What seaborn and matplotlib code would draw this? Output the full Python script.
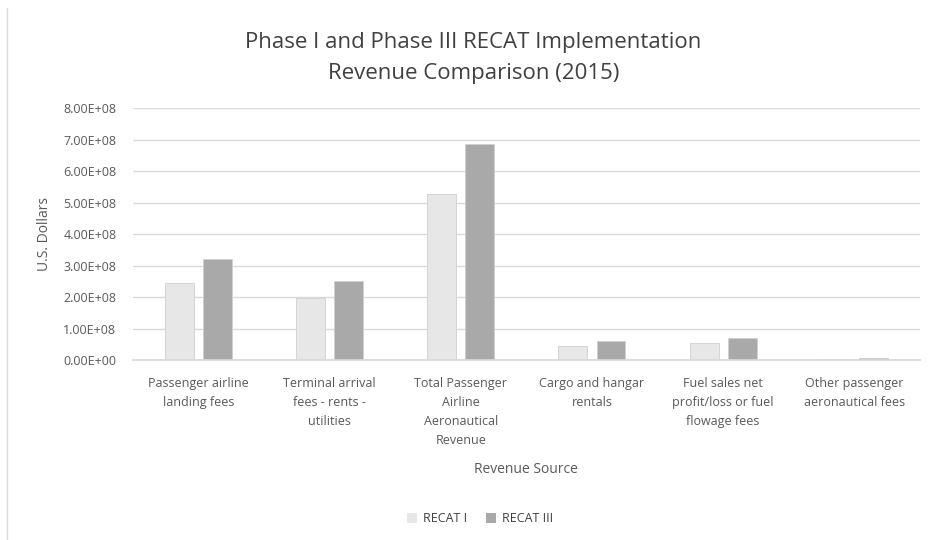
import matplotlib
matplotlib.use("Agg")
import matplotlib.pyplot as plt
import seaborn as sns
import pandas as pd
from matplotlib.ticker import FuncFormatter
from matplotlib.patches import Patch
from matplotlib.lines import Line2D

categories = [
    "Passenger airline\nlanding fees",
    "Terminal arrival\nfees - rents -\nutilities",
    "Total Passenger\nAirline\nAeronautical\nRevenue",
    "Cargo and hangar\nrentals",
    "Fuel sales net\nprofit/loss or fuel\nflowage fees",
    "Other passenger\naeronautical fees",
]
recat_1 = [2.46e8, 1.96e8, 5.28e8, 0.44e8, 0.55e8, 0.05e8]
recat_3 = [3.22e8, 2.52e8, 6.87e8, 0.60e8, 0.69e8, 0.07e8]
series_names = ["RECAT I", "RECAT III"]
colors = ["#E7E7E7", "#A9A9A9"]

df = pd.DataFrame({
    "cat": categories * 2,
    "value": recat_1 + recat_3,
    "series": [series_names[0]] * len(categories) + [series_names[1]] * len(categories),
})

sns.set_theme(style="white")
plt.rcParams["font.family"] = ["Open Sans", "DejaVu Sans"]

fig = plt.figure(figsize=(9.3, 5.4), dpi=100)
ax = fig.add_axes([0.143, 0.333, 0.846, 0.467])

sns.barplot(data=df, x="cat", y="value", hue="series", palette=colors,
            width=0.58, gap=0.24, ax=ax, legend=False, saturation=1,
            edgecolor="#D0D0D0", linewidth=0.6)

ax.set_ylim(0, 8e8)
ax.set_yticks([i * 1e8 for i in range(9)])
ax.yaxis.set_major_formatter(FuncFormatter(lambda v, p: f"{v:.2E}"))
ax.grid(axis="y", color="#D9D9D9", linewidth=1)
ax.set_axisbelow(True)
for s in ["top", "right", "left"]:
    ax.spines[s].set_visible(False)
ax.spines["bottom"].set_color("#D9D9D9")
ax.tick_params(axis="both", length=0, colors="#595959", labelsize=9)
ax.tick_params(axis="y", pad=12)
ax.tick_params(axis="x", pad=12)
for lbl in ax.get_xticklabels():
    lbl.set_linespacing(1.6)
    lbl.set_va("top")
ax.set_xlabel("Revenue Source", color="#595959", fontsize=10)
ax.set_ylabel("U.S. Dollars", color="#595959", fontsize=10)
ax.yaxis.set_label_coords(-0.103, 0.5)
ax.xaxis.set_label_coords(0.5, -0.405)

fig.text(0.509, 0.893, "Phase I and Phase III RECAT Implementation\nRevenue Comparison (2015)",
         ha="center", va="center", fontsize=16, color="#404040", linespacing=1.62)

handles = [Patch(facecolor=c, edgecolor="none") for c in colors]
fig.legend(handles, series_names, loc="center", bbox_to_anchor=(0.516, 0.039),
           ncol=2, frameon=False, fontsize=9, handlelength=0.8, handleheight=0.8,
           columnspacing=1.5, handletextpad=0.5, labelcolor="#404040")

fig.add_artist(Line2D([0.008, 0.008], [0.0, 0.985], transform=fig.transFigure,
                      color="#D9D9D9", linewidth=1))

fig.savefig("out.png", dpi=100)
